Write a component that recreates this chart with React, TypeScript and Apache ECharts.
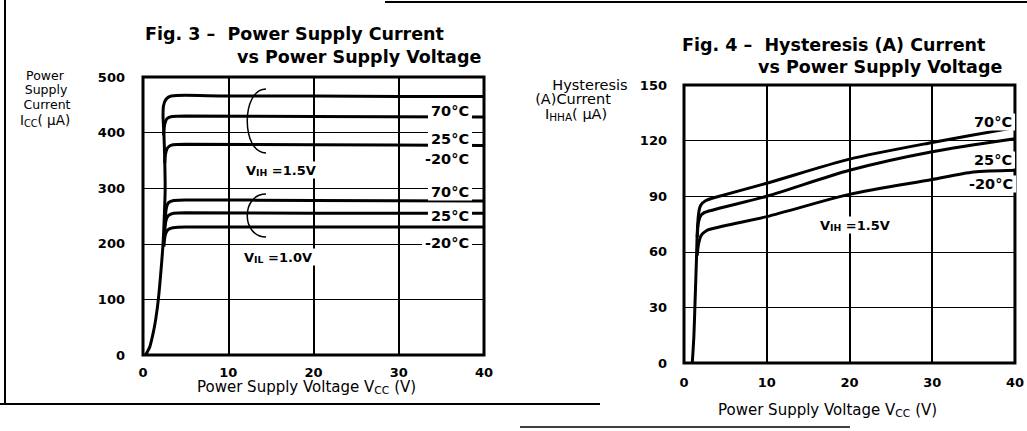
import React, { useEffect, useRef } from "react";
import * as echarts from "echarts";

// ---------- data ----------
const X_TICKS = [0, 10, 20, 30, 40];
const FIG3_Y_TICKS = [0, 100, 200, 300, 400, 500];
const FIG4_Y_TICKS = [0, 30, 60, 90, 120, 150];

// Fig. 3 - Power Supply Current (uA) vs Vcc (V)
const fig3Vih70 = [[0.3, 0], [0.8, 15], [1.2, 40], [1.5, 65], [1.8, 100], [2.1, 150], [2.35, 200], [2.5, 250], [2.6, 300], [2.55, 350], [2.45, 400], [2.35, 430], [2.4, 448], [2.7, 460], [3.3, 466], [5, 467], [10, 466], [20, 466], [30, 465], [40, 465]];
const fig3Vih25 = [[2.4, 395], [2.55, 415], [2.8, 425], [3.4, 429], [5, 430], [20, 429], [40, 428]];
const fig3VihM20 = [[2.55, 345], [2.65, 362], [2.9, 373], [3.5, 378], [5, 379], [20, 378], [40, 377]];
const fig3Vil70 = [[2.6, 245], [2.75, 265], [3.0, 274], [3.6, 278], [5, 279], [20, 278], [40, 277]];
const fig3Vil25 = [[2.55, 222], [2.7, 242], [3.0, 251], [3.6, 255], [5, 256], [20, 255], [40, 255]];
const fig3VilM20 = [[2.45, 195], [2.6, 215], [2.9, 225], [3.5, 229], [5, 230], [20, 230], [40, 230]];

// Fig. 4 - Hysteresis (A) Current (uA) vs Vcc (V)
const fig4T70 = [[1.0, 0], [1.2, 15], [1.35, 35], [1.5, 55], [1.6, 70], [1.75, 80], [2.0, 85], [2.6, 87.5], [3.5, 89], [10, 97], [20, 110], [30, 119], [40, 127]];
const fig4T25 = [[1.6, 68], [1.75, 76], [2.1, 80], [3.0, 82], [10, 90], [20, 104], [30, 114], [40, 121]];
const fig4TM20 = [[1.6, 58], [1.75, 64], [2.1, 69], [3.0, 72], [10, 79], [20, 91], [30, 99], [35, 103], [40, 104]];

const FONT = '"DejaVu Sans"';

function curve(data: number[][], gi: number) {
  return {
    type: "line",
    xAxisIndex: gi,
    yAxisIndex: gi,
    data,
    showSymbol: false,
    smooth: 0.25,
    lineStyle: { color: "#000", width: 3 },
    z: 5,
  };
}

function txt(x: number, y: number, text: string, size: number, align = "left", extra: any = {}, weight = "bold") {
  return {
    type: "text",
    x,
    y,
    z: 100,
    style: {
      text,
      fill: "#000",
      fontFamily: FONT,
      fontWeight: weight,
      fontSize: size,
      align,
      verticalAlign: "middle",
      ...extra,
    },
  };
}

function sub(x: number, y: number, main: string, s: string, rest: string, size: number, extra: any = {}, weight = "bold") {
  return {
    type: "text",
    x,
    y,
    z: 100,
    style: {
      text: `{a|${main}}{s|${s}}{a|${rest}}`,
      fill: "#000",
      align: "left",
      verticalAlign: "middle",
      rich: {
        a: { fontFamily: FONT, fontWeight: weight, fontSize: size, fill: "#000", verticalAlign: "middle" },
        s: { fontFamily: FONT, fontWeight: weight, fontSize: size * 0.72, fill: "#000", padding: [size * 0.45, 0, 0, 0] },
      },
      ...extra,
    },
  };
}

function bracket(x: number, y1: number, y2: number) {
  return {
    type: "bezierCurve",
    z: 50,
    shape: { x1: x, y1, cpx1: x - 25, cpy1: y1, cpx2: x - 25, cpy2: y2, x2: x, y2 },
    style: { stroke: "#000", lineWidth: 1.5, fill: null },
  };
}

function seg(x1: number, y1: number, x2: number, y2: number, w = 2) {
  return { type: "line", z: 50, shape: { x1, y1, x2, y2 }, style: { stroke: "#000", lineWidth: w } };
}

const axisLabelStyle = { color: "#000", fontFamily: FONT, fontWeight: "bold", fontSize: 13 };

export default function App() {
  const ref = useRef<HTMLDivElement>(null);
  useEffect(() => {
    document.body.style.margin = "0";
    const chart = echarts.init(ref.current!, null, { renderer: "svg" });
    const lbl = { backgroundColor: "#fff", padding: [1, 3, 1, 3] };
    chart.setOption({
      animation: false,
      backgroundColor: "#fff",
      grid: [
        { left: 143, top: 77, width: 341, height: 278, show: true, borderColor: "#000", borderWidth: 3, backgroundColor: "transparent" },
        { left: 684, top: 85, width: 338, height: 278, show: true, borderColor: "#000", borderWidth: 3, backgroundColor: "transparent" },
      ],
      xAxis: [0, 1].map((gi) => ({
        type: "value",
        gridIndex: gi,
        min: X_TICKS[0],
        max: X_TICKS[X_TICKS.length - 1],
        interval: X_TICKS[1] - X_TICKS[0],
        axisLine: { show: false },
        axisTick: { show: false },
        splitLine: { show: true, lineStyle: { color: "#000", width: 2 } },
        axisLabel: { ...axisLabelStyle, margin: gi === 0 ? 11 : 13 },
      })),
      yAxis: [
        {
          type: "value", gridIndex: 0,
          min: FIG3_Y_TICKS[0], max: FIG3_Y_TICKS[FIG3_Y_TICKS.length - 1], interval: FIG3_Y_TICKS[1] - FIG3_Y_TICKS[0],
          axisLine: { show: false }, axisTick: { show: false },
          splitLine: { show: true, lineStyle: { color: "#000", width: 1 } },
          axisLabel: { ...axisLabelStyle, margin: 18 },
        },
        {
          type: "value", gridIndex: 1,
          min: FIG4_Y_TICKS[0], max: FIG4_Y_TICKS[FIG4_Y_TICKS.length - 1], interval: FIG4_Y_TICKS[1] - FIG4_Y_TICKS[0],
          axisLine: { show: false }, axisTick: { show: false },
          splitLine: { show: true, lineStyle: { color: "#000", width: 1 } },
          axisLabel: { ...axisLabelStyle, margin: 17 },
        },
      ],
      series: [
        curve(fig3Vih70, 0), curve(fig3Vih25, 0), curve(fig3VihM20, 0),
        curve(fig3Vil70, 0), curve(fig3Vil25, 0), curve(fig3VilM20, 0),
        curve(fig4T70, 1), curve(fig4T25, 1), curve(fig4TM20, 1),
      ],
      graphic: [
        // frame lines of the scanned page
        seg(5, 0, 5, 404, 2),
        seg(0, 404, 600, 404, 2),
        seg(385, 2, 1027, 2, 2),
        seg(520, 427, 850, 427, 1.5),
        // Fig 3 titles
        txt(145, 34, "Fig. 3 –  Power Supply Current", 17.5),
        txt(237, 57, "vs Power Supply Voltage", 17.5),
        // Fig 3 y name
        txt(45, 75, "Power", 12.5, "center", {}, "normal"),
        txt(46, 89.5, "Supply", 12.5, "center", {}, "normal"),
        txt(47, 104, "Current", 12.5, "center", {}, "normal"),
        sub(20, 120, "I", "CC", "( μA)", 13.5, {}, "normal"),
        // Fig 3 x name
        sub(197, 387, "Power Supply Voltage V", "CC", " (V)", 15, {}, "normal"),
        // Fig 3 brackets & annotations
        bracket(266, 89, 153),
        bracket(266, 194, 237),
        sub(243, 170, "V", "IH", " =1.5V", 13, lbl),
        sub(241, 257, "V", "IL", " =1.0V", 13, lbl),
        txt(450, 111, "70°C", 14.5, "center", lbl),
        txt(450, 139, "25°C", 14.5, "center", lbl),
        txt(447, 159, "-20°C", 14.5, "center", lbl),
        txt(450, 192, "70°C", 14.5, "center", lbl),
        txt(450, 216, "25°C", 14.5, "center", lbl),
        txt(447, 243, "-20°C", 14.5, "center", lbl),
        // Fig 4 titles
        txt(682, 45, "Fig. 4 –  Hysteresis (A) Current", 17.5),
        txt(758, 67, "vs Power Supply Voltage", 17.5),
        // Fig 4 y name
        txt(590, 85, "Hysteresis", 14.5, "center", {}, "normal"),
        txt(573, 99, "(A)Current", 14.5, "center", {}, "normal"),
        sub(545, 114, "I", "HHA", "( μA)", 14.5, {}, "normal"),
        // Fig 4 x name
        sub(718, 410, "Power Supply Voltage V", "CC", " (V)", 15, {}, "normal"),
        // Fig 4 annotations
        txt(993, 122, "70°C", 14.5, "center", lbl),
        txt(993, 160, "25°C", 14.5, "center", lbl),
        txt(991, 184, "-20°C", 14.5, "center", lbl),
        sub(817, 225, "V", "IH", " =1.5V", 13, lbl),
      ],
    });
    return () => chart.dispose();
  }, []);
  return (
    <div
      ref={ref}
      style={{ position: "absolute", left: 0, top: 0, width: 1027, height: 431, background: "#fff" }}
    />
  );
}
